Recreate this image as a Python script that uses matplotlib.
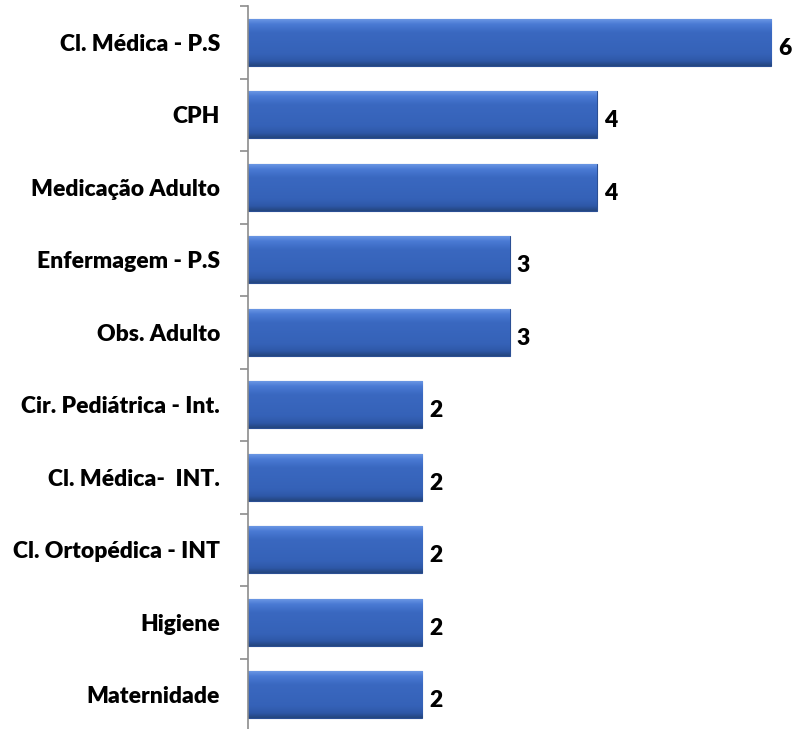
import matplotlib
matplotlib.use("Agg")
import matplotlib.pyplot as plt
import numpy as np
from matplotlib.colors import LinearSegmentedColormap

# data, top to bottom
categories = ["Cl. Médica - P.S", "CPH", "Medicação Adulto", "Enfermagem - P.S",
              "Obs. Adulto", "Cir. Pediátrica - Int.", "Cl. Médica-  INT.",
              "Cl. Ortopédica - INT", "Higiene", "Maternidade"]
values = [6, 4, 4, 3, 3, 2, 2, 2, 2, 2]

plt.rcParams['font.family'] = ['Lato', 'DejaVu Sans']
FS = 16.5

fig = plt.figure(figsize=(7.92, 7.29), dpi=100)
ax = fig.add_axes([248 / 792, -0.003, 1 - 248 / 792, 1 - 6 / 729 + 0.003])

y = np.arange(len(categories))
bars = ax.barh(y, values, height=0.65, color='#3765BD', edgecolor='#2B4F94', linewidth=0.8, zorder=2)

# vertical gradient for the bevelled look
cmap = LinearSegmentedColormap.from_list('bev', [
    (0.0, '#6F9BE6'), (0.12, '#4A7AD4'), (0.3, '#3A68C0'),
    (0.75, '#3562B8'), (0.9, '#2E58A8'), (1.0, '#24467F')])
grad = np.linspace(0, 1, 64).reshape(-1, 1)
for b in bars:
    x0, y0 = b.get_x(), b.get_y()
    w, h = b.get_width(), b.get_height()
    im = ax.imshow(grad, cmap=cmap, aspect='auto', extent=(x0, x0 + w, y0 + h, y0),
                   zorder=2.5, interpolation='bicubic')
    im.set_clip_path(b)

for yi, v in zip(y, values):
    ax.text(v + 0.08, yi + 0.08, str(v), va='center', ha='left',
            fontsize=FS, fontweight='heavy', color='black')

ax.set_ylim(len(categories) - 0.5, -0.5)
ax.set_xlim(0, (792 - 248) / 87.2)

ax.set_yticks(y)
ax.set_yticklabels(categories, fontsize=FS, fontweight='heavy')
ax.set_yticks(np.arange(-0.5, len(categories), 1), minor=True)
ax.tick_params(axis='y', which='major', length=0, pad=20)
ax.tick_params(axis='y', which='minor', length=6, color='#8C8C8C', width=1.2)
ax.set_xticks([])

for s in ['top', 'right', 'bottom']:
    ax.spines[s].set_visible(False)
ax.spines['left'].set_color('#8C8C8C')
ax.spines['left'].set_linewidth(1.2)

fig.savefig('out.png', dpi=100)
